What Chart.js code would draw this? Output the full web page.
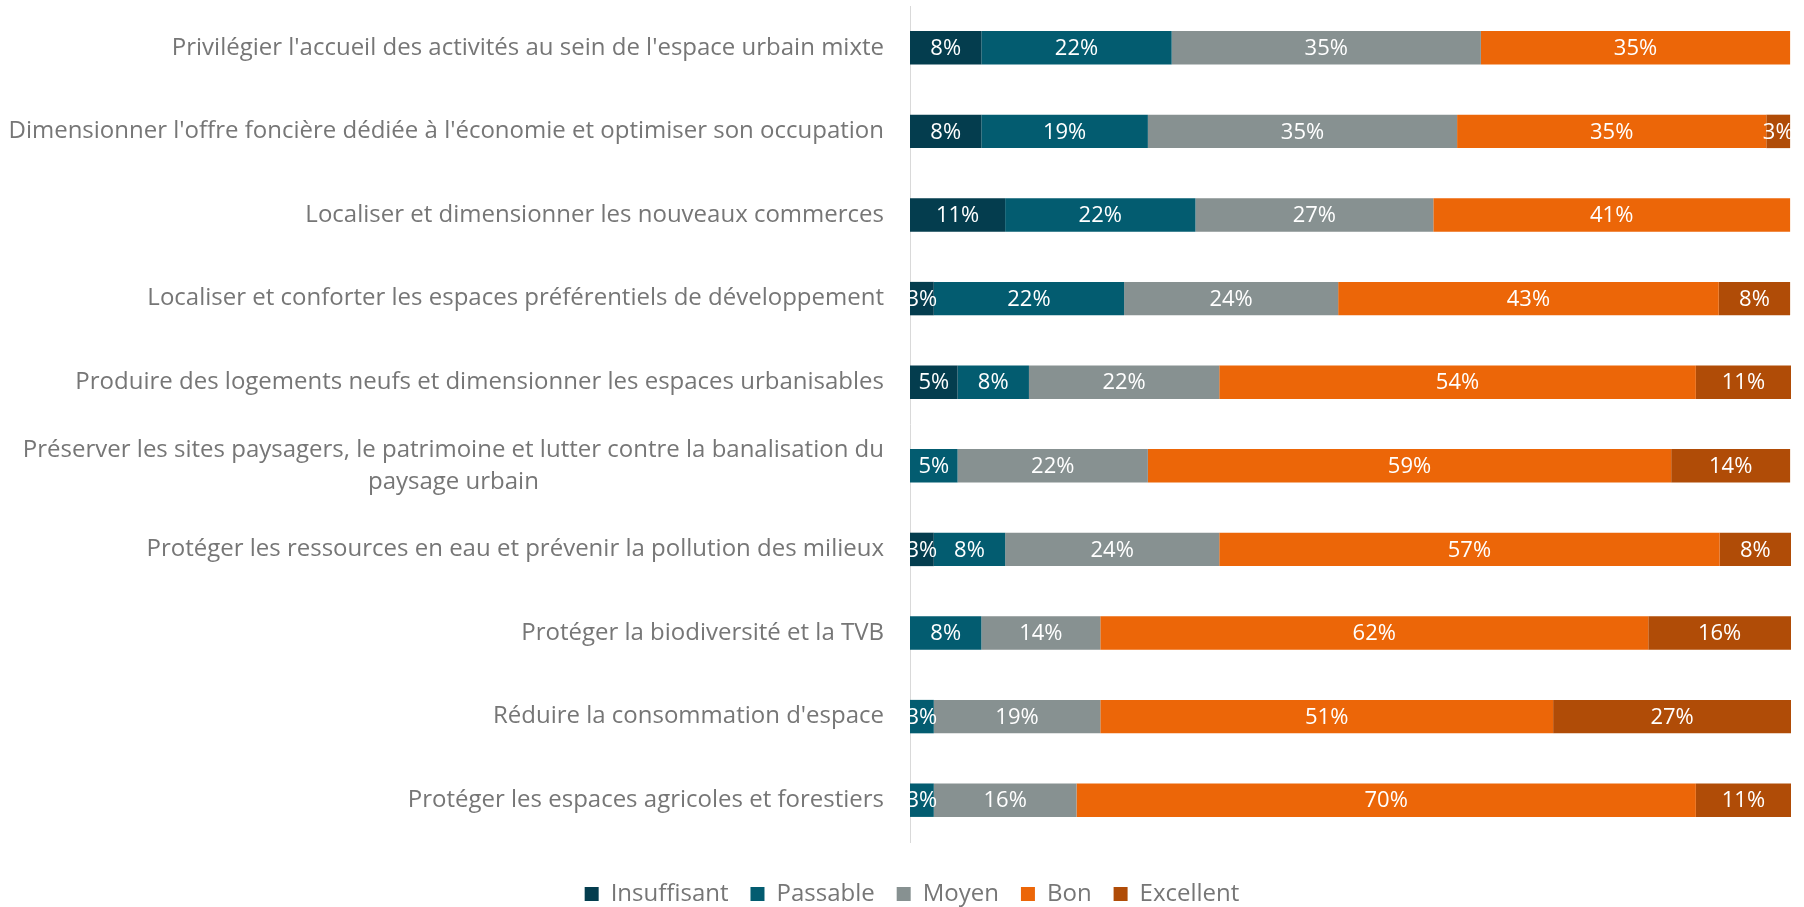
<!DOCTYPE html>
<html>
<head>
<meta charset="utf-8">
<script src="https://cdn.jsdelivr.net/npm/chart.js@4"></script>
<style>
  body { margin: 0; background: #fff; }
  #wrap { width: 1804px; height: 907px; }
</style>
</head>
<body>
<div id="wrap"><canvas id="evalChart"></canvas></div>
<script>
// Evaluation des orientations (% des réponses)

const categories = [
	"Privilégier l'accueil des activités au sein de l'espace urbain mixte",
	"Dimensionner l'offre foncière dédiée à l'économie et optimiser son occupation",
	"Localiser et dimensionner les nouveaux commerces",
	"Localiser et conforter les espaces préférentiels de développement",
	"Produire des logements neufs et dimensionner les espaces urbanisables",
	["Préserver les sites paysagers, le patrimoine et lutter contre la banalisation du", "paysage urbain"],
	"Protéger les ressources en eau et prévenir la pollution des milieux",
	"Protéger la biodiversité et la TVB",
	"Réduire la consommation d'espace",
	"Protéger les espaces agricoles et forestiers",
];

const insuffisant = [8.1, 8.1, 10.8, 2.7, 5.4, 0, 2.7, 0, 0, 0];
const passable = [21.6, 18.9, 21.6, 21.6, 8.1, 5.4, 8.1, 8.1, 2.7, 2.7];
const moyen = [35.1, 35.1, 27.0, 24.3, 21.6, 21.6, 24.3, 13.5, 18.9, 16.2];
const bon = [35.1, 35.1, 40.5, 43.2, 54.1, 59.4, 56.8, 62.2, 51.4, 70.3];
const excellent = [0, 2.7, 0, 8.1, 10.8, 13.5, 8.1, 16.2, 27.0, 10.8];

const FONT = "'Open Sans', 'Noto Sans', sans-serif";
const TEXT_GREY = "#767676";

// percentages written inside the bars, clipped to the plot
const barLabels = {
	id: "barLabels",
	afterDatasetsDraw(chart) {
		const ctx = chart.ctx;
		const area = chart.chartArea;
		ctx.save();
		ctx.beginPath();
		ctx.rect(area.left, area.top, area.right - area.left, area.bottom - area.top);
		ctx.clip();
		ctx.font = "22px " + FONT;
		ctx.fillStyle = "#ffffff";
		ctx.textAlign = "center";
		ctx.textBaseline = "middle";
		chart.data.datasets.forEach((ds, di) => {
			const meta = chart.getDatasetMeta(di);
			meta.data.forEach((bar, i) => {
				const v = ds.data[i];
				if (!v) return;
				ctx.fillText(Math.round(v) + "%", (bar.x + bar.base) / 2, bar.y + 1);
			});
		});
		ctx.restore();
	},
};

// category names left of the axis (multi-line ones centred on their block)
const rowLabels = {
	id: "rowLabels",
	afterDraw(chart) {
		const ctx = chart.ctx;
		const yScale = chart.scales.y;
		const right = chart.chartArea.left - 26;
		ctx.save();
		ctx.font = "24px " + FONT;
		ctx.fillStyle = TEXT_GREY;
		ctx.textAlign = "center";
		ctx.textBaseline = "middle";
		categories.forEach((lab, i) => {
			const lines = Array.isArray(lab) ? lab : [lab];
			const yc = yScale.getPixelForValue(i);
			const w = Math.max(...lines.map((l) => ctx.measureText(l).width));
			lines.forEach((l, k) => {
				ctx.fillText(l, right - w / 2, yc + (k - (lines.length - 1) / 2) * 32);
			});
		});
		ctx.restore();
	},
};

const data = {
	labels: categories,
	datasets: [
		{ label: "Insuffisant", data: insuffisant, backgroundColor: "#043d4e" },
		{ label: "Passable", data: passable, backgroundColor: "#035c70" },
		{ label: "Moyen", data: moyen, backgroundColor: "#879191" },
		{ label: "Bon", data: bon, backgroundColor: "#ec6608" },
		{ label: "Excellent", data: excellent, backgroundColor: "#b04c07" },
	],
};

const config = {
	type: "bar",
	data: data,
	options: {
		indexAxis: "y",
		responsive: true,
		maintainAspectRatio: false,
		animation: false,
		datasets: {
			bar: { barPercentage: 0.4, categoryPercentage: 1 },
		},
		layout: { padding: { left: 33, right: 13, top: 6, bottom: 0 } },
		scales: {
			x: {
				stacked: true,
				min: 0,
				max: 100,
				ticks: { display: false },
				grid: { display: false, drawTicks: false },
				border: { display: false },
				afterFit(scale) { scale.height = 18; },
			},
			y: {
				stacked: true,
				ticks: { display: false },
				grid: { display: false, drawTicks: false },
				border: { display: true, color: "#d9d9d9", width: 1 },
				afterFit(scale) { scale.width = 877; },
			},
		},
		plugins: {
			tooltip: { enabled: false },
			legend: {
				position: "bottom",
				maxHeight: 47,
				labels: {
					boxWidth: 14,
					boxHeight: 14,
					padding: 22,
					color: TEXT_GREY,
					font: { family: FONT, size: 24 },
				},
			},
		},
	},
	plugins: [barLabels, rowLabels],
};

const evalChart = new Chart(document.getElementById("evalChart"), config);
</script>
</body>
</html>
